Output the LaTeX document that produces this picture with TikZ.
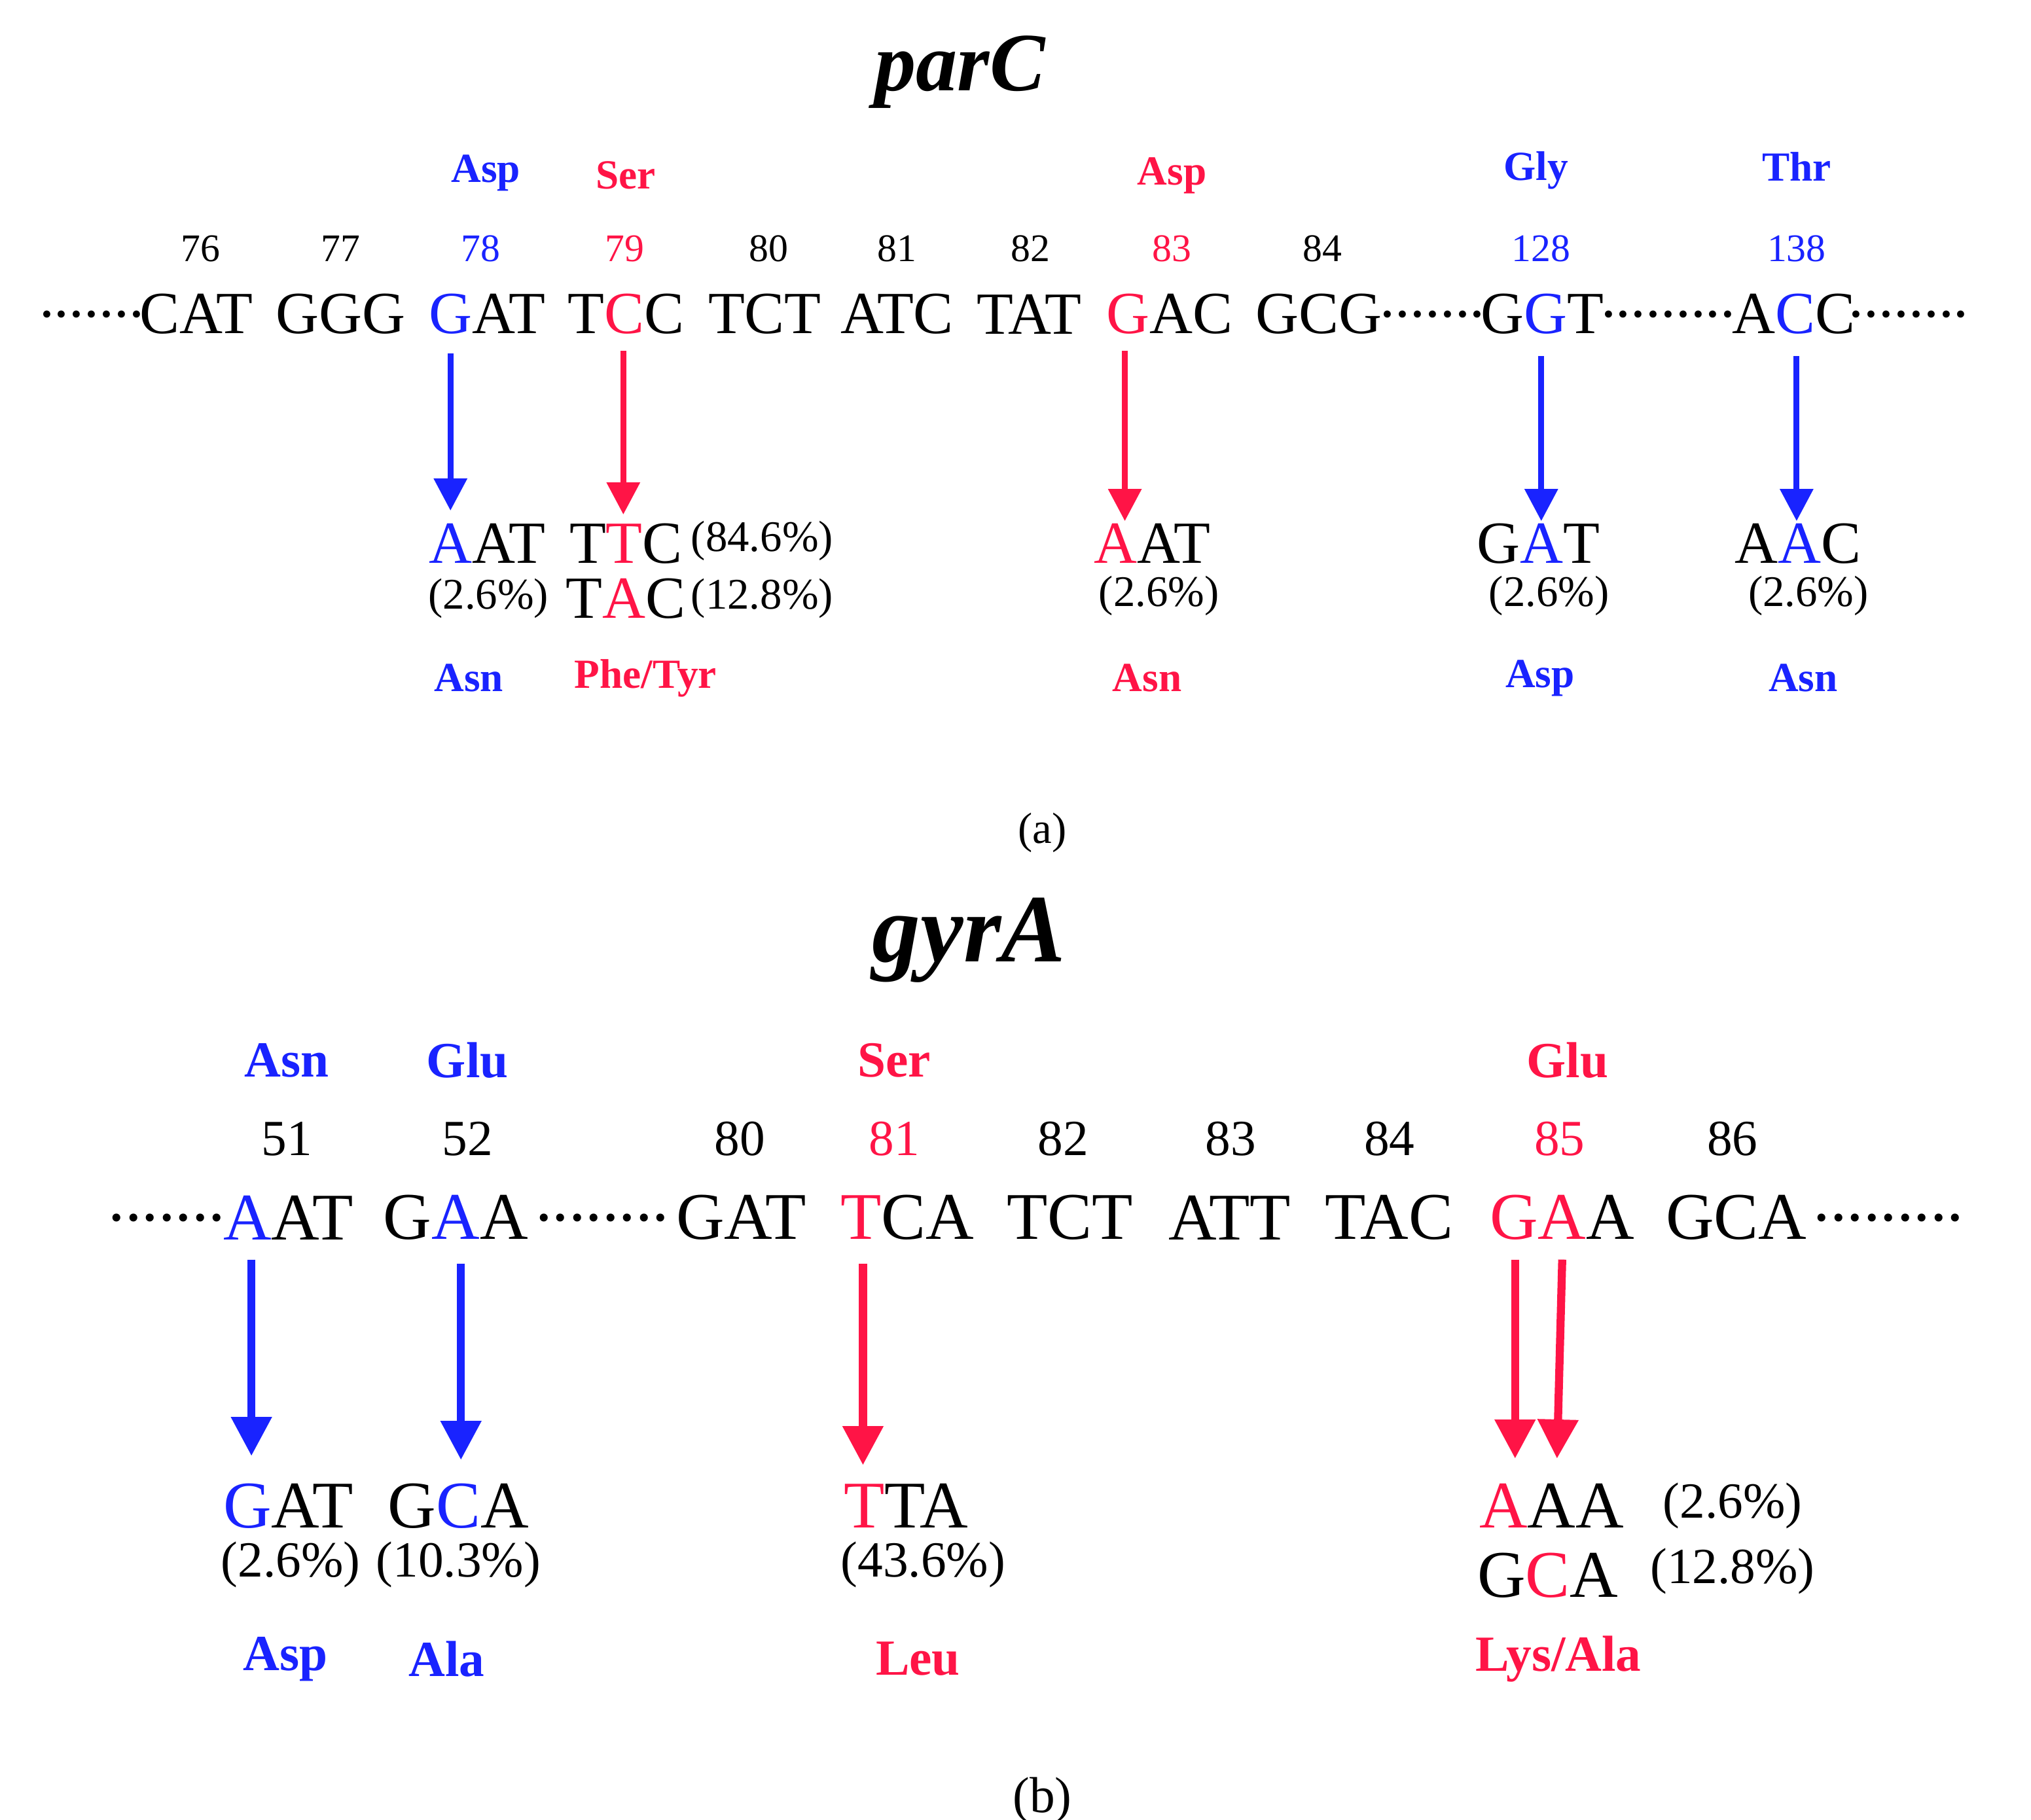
\documentclass[tikz,border=0pt]{standalone}
\usepackage{fontspec}
\setmainfont{Liberation Serif}
\usetikzlibrary{arrows.meta}
\definecolor{mb}{RGB}{25,35,255}
\definecolor{mr}{RGB}{255,20,70}
\newcommand{\B}[1]{\textcolor{mb}{#1}}
\newcommand{\R}[1]{\textcolor{mr}{#1}}
\begin{document}
\begin{tikzpicture}[x=0.02cm,y=-0.02cm,
  every node/.style={inner sep=0pt,outer sep=0pt},
  seq/.style={font=\fontsize{26}{28}\selectfont},
  seqb/.style={font=\fontsize{29}{31}\selectfont},
  num/.style={font=\fontsize{17}{19}\selectfont},
  aa/.style={font=\fontsize{18}{20}\selectfont\bfseries},
  pct/.style={font=\fontsize{19}{21}\selectfont},
  pctb/.style={font=\fontsize{22}{24}\selectfont},
  ttl/.style={font=\fontsize{36}{40}\selectfont\bfseries\itshape},
  arrb/.style={-{Triangle[width=14pt,length=14pt]},line width=2.6pt,mb},
  arrr/.style={-{Triangle[width=14pt,length=14pt]},line width=2.6pt,mr},
  arrB/.style={-{Triangle[width=17pt,length=17pt]},line width=3.5pt,mb},
  arrR/.style={-{Triangle[width=17pt,length=17pt]},line width=3.5pt,mr}]
\useasboundingbox (0,0) rectangle (1551,1390);
% ---------- parC ----------
\node[ttl] (t1) at (733,55) {parC};
\node[aa,mb] (a1) at (371,132) {Asp};
\node[aa,mr] (a2) at (478,134) {Ser};
\node[aa,mr] (a3) at (895,134) {Asp};
\node[aa,mb] (a4) at (1173,130) {Gly};
\node[aa,mb] (a5) at (1372,127) {Thr};
\foreach \x/\t/\c [count=\i] in {153/76/black,260/77/black,367/78/mb,477/79/mr,587/80/black,685/81/black,787/82/black,895/83/mr,1010/84/black,1177/128/mb,1372/138/mb}
  \node[num,text=\c] (n\i) at (\x,190) {\t};
\node[seq,anchor=east] (d1) at (110,240) {.......};
\node[seq] (c1) at (150,240) {CAT};
\node[seq] (c2) at (260,240) {GGG};
\node[seq] (c3) at (372,240) {\B{G}AT};
\node[seq] (c4) at (478,240) {T\R{C}C};
\node[seq] (c5) at (584,240) {TCT};
\node[seq] (c6) at (685,240) {ATC};
\node[seq] (c7) at (786,240) {TAT};
\node[seq] (c8) at (893,240) {\R{G}AC};
\node[seq] (c9) at (1007,240) {GCG};
\node[seq] (d2) at (1094,240) {.......};
\node[seq] (c10) at (1178,240) {G\B{G}T};
\node[seq] (d3) at (1274,240) {.........};
\node[seq] (c11) at (1370,240) {A\B{C}C};
\node[seq,anchor=west] (d4) at (1412,240) {........};
\draw[arrb] (344,270) -- (344,390);
\draw[arrr] (476,268) -- (476,393);
\draw[arrr] (859,268) -- (859,398);
\draw[arrb] (1177,272) -- (1177,398);
\draw[arrb] (1372,272) -- (1372,398);
\node[seq] (m1) at (372,415) {\B{A}AT};
\node[pct] (p1) at (373,457) {(2.6\%)};
\node[seq] (m2) at (478,415) {T\R{T}C};
\node[pct] (p2) at (582,413) {(84.6\%)};
\node[seq] (m3) at (478,457) {T\R{A}C};
\node[pct] (p3) at (582,457) {(12.8\%)};
\node[seq] (m4) at (880,415) {\R{A}AT};
\node[pct] (p4) at (885,455) {(2.6\%)};
\node[seq] (m5) at (1175,415) {G\B{A}T};
\node[pct] (p5) at (1183,455) {(2.6\%)};
\node[seq] (m6) at (1373,415) {A\B{A}C};
\node[pct] (p6) at (1381,455) {(2.6\%)};
\node[aa,mb] (b1) at (358,518) {Asn};
\node[aa,mr] (b2) at (493,518) {Phe/Tyr};
\node[aa,mr] (b3) at (876,518) {Asn};
\node[aa,mb] (b4) at (1176,518) {Asp};
\node[aa,mb] (b5) at (1377,518) {Asn};
\node[pct] (la) at (796,636) {(a)};
% ---------- gyrA ----------
\node[ttl,font=\fontsize{42}{46}\selectfont\bfseries\itshape] (t2) at (740,718) {gyrA};
\node[aa,mb,font=\fontsize{22}{24}\selectfont\bfseries] (g1) at (219,810) {Asn};
\node[aa,mb,font=\fontsize{22}{24}\selectfont\bfseries] (g2) at (357,810) {Glu};
\node[aa,mr,font=\fontsize{22}{24}\selectfont\bfseries] (g3) at (683,810) {Ser};
\node[aa,mr,font=\fontsize{22}{24}\selectfont\bfseries] (g4) at (1197,810) {Glu};
\foreach \x/\t/\c [count=\i] in {219/51/black,357/52/black,565/80/black,683/81/mr,812/82/black,940/83/black,1061/84/black,1191/85/mr,1323/86/black}
  \node[pctb,text=\c] (k\i) at (\x,870) {\t};
\node[seqb,anchor=east] (e1) at (172,930) {.......};
\node[seqb] (s1) at (220,930) {\B{A}AT};
\node[seqb] (s2) at (348,930) {G\B{A}A};
\node[seqb] (e2) at (460,930) {........};
\node[seqb] (s3) at (566,930) {GAT};
\node[seqb] (s4) at (693,930) {\R{T}CA};
\node[seqb] (s5) at (817,930) {TCT};
\node[seqb] (s6) at (939,930) {ATT};
\node[seqb] (s7) at (1061,930) {TAC};
\node[seqb] (s8) at (1193,930) {\R{G}\R{A}A};
\node[seqb] (s9) at (1326,930) {GCA};
\node[seqb,anchor=west] (e3) at (1385,930) {.........};
\draw[arrB] (192,962) -- (192,1112);
\draw[arrB] (352,965) -- (352,1115);
\draw[arrR] (659,965) -- (659,1119);
\draw[arrR] (1157,962) -- (1157,1114);
\draw[arrR] (1193,962) -- (1189,1114);
\node[seqb] (r1) at (220,1150) {\B{G}AT};
\node[seqb] (r2) at (350,1150) {G\B{C}A};
\node[seqb] (r3) at (692,1150) {\R{T}TA};
\node[seqb] (r4) at (1185,1150) {\R{A}AA};
\node[pctb] (q4) at (1323,1150) {(2.6\%)};
\node[seqb] (r5) at (1182,1203) {G\R{C}A};
\node[pctb] (q5) at (1323,1200) {(12.8\%)};
\node[pctb] (q1) at (222,1195) {(2.6\%)};
\node[pctb] (q2) at (350,1195) {(10.3\%)};
\node[pctb] (q3) at (705,1195) {(43.6\%)};
\node[aa,mb,font=\fontsize{22}{24}\selectfont\bfseries] (h1) at (218,1267) {Asp};
\node[aa,mb,font=\fontsize{22}{24}\selectfont\bfseries] (h2) at (341,1267) {Ala};
\node[aa,mr,font=\fontsize{22}{24}\selectfont\bfseries] (h3) at (701,1267) {Leu};
\node[aa,mr,font=\fontsize{22}{24}\selectfont\bfseries] (h4) at (1190,1267) {Lys/Ala};
\node[pctb] (lb) at (796,1375) {(b)};
\end{tikzpicture}
\end{document}
